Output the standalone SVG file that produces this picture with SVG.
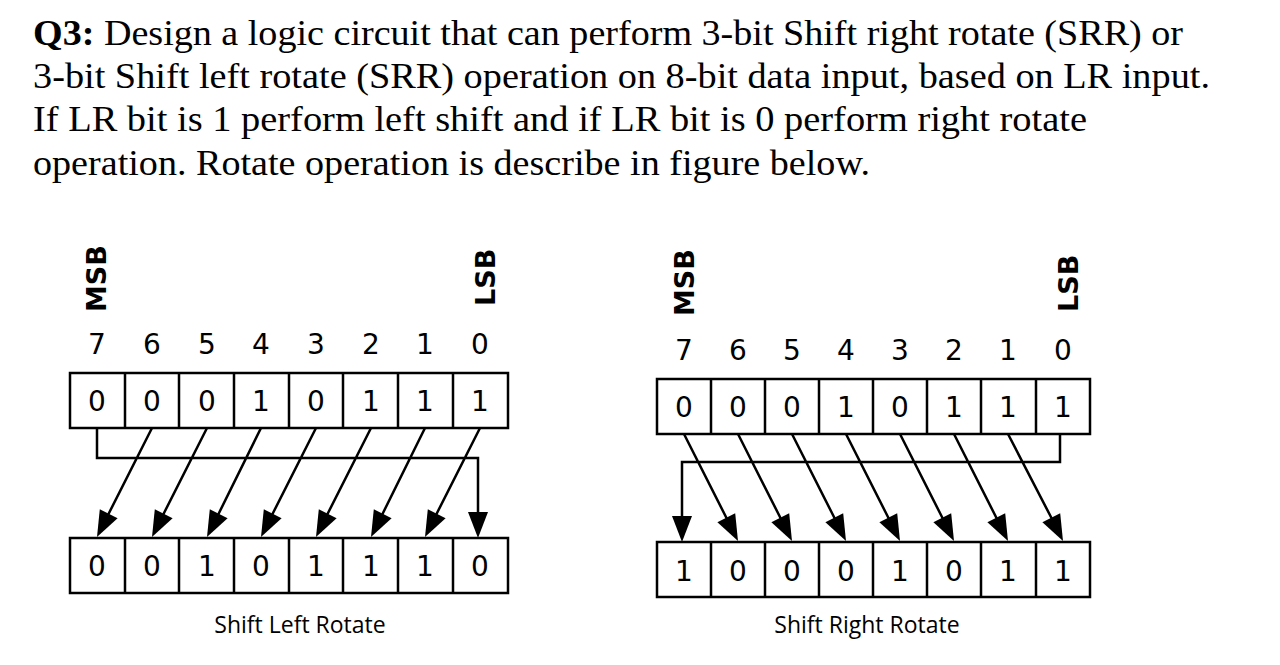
<svg xmlns="http://www.w3.org/2000/svg" width="1280" height="665" viewBox="0 0 1280 665">
<style>
.h{font-family:"Liberation Serif",serif;font-size:35px;fill:#000}
.d{font-family:"DejaVu Sans",sans-serif;font-size:28px;fill:#000;text-anchor:middle}
.lb{font-family:"DejaVu Sans",sans-serif;font-size:27px;font-weight:bold;fill:#000}
.cap{font-family:"Open Sans",sans-serif;font-size:23px;fill:#000;text-anchor:middle}
.box{fill:#fff;stroke:#000;stroke-width:2.5}
.w{fill:none;stroke:#000;stroke-width:2.5}
</style>
<defs>
<path id="hl" d="M0,0 L20.6,-18.7 L2.8,-27.7 z" fill="#000"/>
<path id="hr" d="M0,0 L-20.6,-18.7 L-2.8,-27.7 z" fill="#000"/>
<path id="hv" d="M0,0 L-10,-26 L10,-26 z" fill="#000"/>
</defs>
<rect width="1280" height="665" fill="#fff"/>
<g id="question">
<text class="h" x="33" y="45" textLength="1150" lengthAdjust="spacingAndGlyphs"><tspan font-weight="bold">Q3:</tspan> Design a logic circuit that can perform 3-bit Shift right rotate (SRR) or</text>
<text class="h" x="33" y="88" textLength="1177" lengthAdjust="spacingAndGlyphs">3-bit Shift left rotate (SRR) operation on 8-bit data input, based on LR input.</text>
<text class="h" x="33" y="131" textLength="1054" lengthAdjust="spacingAndGlyphs">If LR bit is 1 perform left shift and if LR bit is 0 perform right rotate</text>
<text class="h" x="33" y="175" textLength="837" lengthAdjust="spacingAndGlyphs">operation. Rotate operation is describe in figure below.</text>
</g>
<g id="left-labels">
<text class="lb" transform="translate(106,312) rotate(-90)">MSB</text>
<text class="lb" transform="translate(495,306) rotate(-90)">LSB</text>
<text class="d" x="97" y="354">7</text><text class="d" x="152" y="354">6</text><text class="d" x="207" y="354">5</text><text class="d" x="261" y="354">4</text><text class="d" x="316" y="354">3</text><text class="d" x="371" y="354">2</text><text class="d" x="425" y="354">1</text><text class="d" x="480" y="354">0</text>
</g>
<g id="left-top">
<rect class="box" x="70" y="373" width="438" height="55"/>
<path class="w" d="M125,373V428M179,373V428M234,373V428M289,373V428M343,373V428M398,373V428M453,373V428"/>
<text class="d" x="97" y="411">0</text><text class="d" x="152" y="411">0</text><text class="d" x="207" y="411">0</text><text class="d" x="261" y="411">1</text><text class="d" x="316" y="411">0</text><text class="d" x="371" y="411">1</text><text class="d" x="425" y="411">1</text><text class="d" x="480" y="411">1</text>
</g>
<g id="left-bottom">
<rect class="box" x="70" y="538" width="438" height="55"/>
<path class="w" d="M125,538V593M179,538V593M234,538V593M289,538V593M343,538V593M398,538V593M453,538V593"/>
<text class="d" x="97" y="576">0</text><text class="d" x="152" y="576">0</text><text class="d" x="207" y="576">1</text><text class="d" x="261" y="576">0</text><text class="d" x="316" y="576">1</text><text class="d" x="371" y="576">1</text><text class="d" x="425" y="576">1</text><text class="d" x="480" y="576">0</text>
</g>
<g id="left-connectors">
<path class="w" d="M97,428V458H478V516M152,428L108,515M207,428L163,515M261,428L218,515M316,428L272,515M371,428L327,515M425,428L382,515M480,428L436,515"/>
<use href="#hv" x="478" y="538"/>
<use href="#hl" x="97" y="537"/><use href="#hl" x="152" y="537"/><use href="#hl" x="207" y="537"/><use href="#hl" x="261" y="537"/>
<use href="#hl" x="316" y="537"/><use href="#hl" x="371" y="537"/><use href="#hl" x="425" y="537"/>
</g>
<g id="right-labels">
<text class="lb" transform="translate(694,316) rotate(-90)">MSB</text>
<text class="lb" transform="translate(1078,312) rotate(-90)">LSB</text>
<text class="d" x="684" y="360">7</text><text class="d" x="738" y="360">6</text><text class="d" x="792" y="360">5</text><text class="d" x="846" y="360">4</text><text class="d" x="900" y="360">3</text><text class="d" x="954" y="360">2</text><text class="d" x="1008" y="360">1</text><text class="d" x="1063" y="360">0</text>
</g>
<g id="right-top">
<rect class="box" x="657" y="379" width="433" height="55"/>
<path class="w" d="M711,379V434M765,379V434M819,379V434M873,379V434M927,379V434M981,379V434M1036,379V434"/>
<text class="d" x="684" y="417">0</text><text class="d" x="738" y="417">0</text><text class="d" x="792" y="417">0</text><text class="d" x="846" y="417">1</text><text class="d" x="900" y="417">0</text><text class="d" x="954" y="417">1</text><text class="d" x="1008" y="417">1</text><text class="d" x="1063" y="417">1</text>
</g>
<g id="right-bottom">
<rect class="box" x="657" y="542" width="433" height="55"/>
<path class="w" d="M711,542V597M765,542V597M819,542V597M873,542V597M927,542V597M981,542V597M1036,542V597"/>
<text class="d" x="684" y="581">1</text><text class="d" x="738" y="581">0</text><text class="d" x="792" y="581">0</text><text class="d" x="846" y="581">0</text><text class="d" x="900" y="581">1</text><text class="d" x="954" y="581">0</text><text class="d" x="1008" y="581">1</text><text class="d" x="1063" y="581">1</text>
</g>
<g id="right-connectors">
<path class="w" d="M1060,434V462H682V520M684,434L727,519M738,434L781,519M792,434L835,519M846,434L889,519M900,434L943,519M954,434L997,519M1008,434L1052,519"/>
<use href="#hv" x="682" y="542"/>
<use href="#hr" x="738" y="541"/><use href="#hr" x="792" y="541"/><use href="#hr" x="846" y="541"/><use href="#hr" x="900" y="541"/>
<use href="#hr" x="954" y="541"/><use href="#hr" x="1008" y="541"/><use href="#hr" x="1063" y="541"/>
</g>
<g id="captions">
<text class="cap" x="300" y="633">Shift Left Rotate</text>
<text class="cap" x="867" y="633">Shift Right Rotate</text>
</g>
</svg>
